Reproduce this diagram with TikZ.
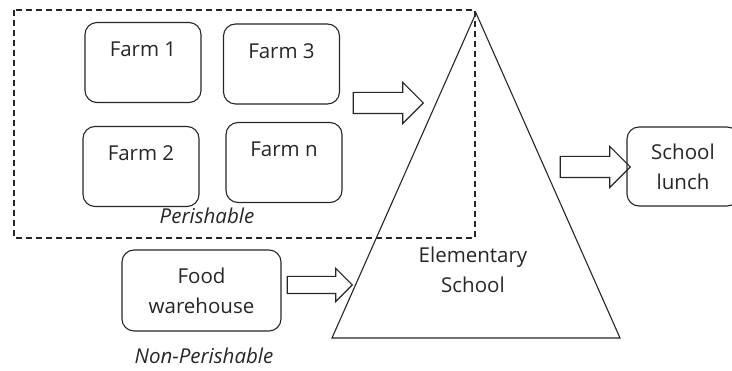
\documentclass[tikz,border=0pt]{standalone}
\usepackage{fontspec}
\setmainfont{Open Sans}
\usetikzlibrary{shapes.arrows}

\begin{document}
\begin{tikzpicture}[x=1pt,y=-1pt,line width=1.1pt,
    every node/.style={font=\fontsize{20.5}{30}\selectfont,text=black!85},
    farm/.style={draw=black!85,rounded corners=12pt,minimum width=116pt,minimum height=80pt,text height=14pt,text depth=25pt},
    roundbox/.style={draw=black!85,rounded corners=12pt,align=center},
    tag/.style={font=\fontsize{20.5}{30}\itshape,inner sep=1pt},
    bigarrow/.style={draw=black!85,single arrow,inner xsep=0pt,inner ysep=10pt,single arrow head extend=10pt,minimum width=40pt,minimum height=70pt}]
    \clip (0,0) rectangle (732,371);

    % Perishable: the farms
    \draw[black!85,dash pattern=on 6pt off 4pt] (14,10) rectangle (475,238);
    \node[farm] (farm1) at (143,62.5) {Farm 1};
    \node[farm] (farm3) at (281.5,64) {Farm 3};
    \node[farm] (farm2) at (141,166.5) {Farm 2};
    \node[farm] (farmn) at (284,162.5) {Farm n};
    \node[tag] (perish) at (207,216) {Perishable};

    % Elementary school
    \coordinate (apex) at (476,13);
    \coordinate (baseL) at (332,338);
    \coordinate (baseR) at (620,338);
    \draw[black!85] (apex) -- (baseR) -- (baseL) -- cycle;
    \node[align=center] (school) at (473,270) {Elementary\\School};

    % Non-perishable: the warehouse
    \node[roundbox,minimum width=159pt,minimum height=81pt] (warehouse) at (201.5,290.5) {Food\\warehouse};
    \node[tag] (nonperish) at (204,356) {Non-Perishable};

    % School lunch
    \node[roundbox,minimum width=112pt,minimum height=79pt] (lunch) at (683,166.5) {School\\lunch};

    % Block arrows
    \node[bigarrow] (arrfarm) at (383,103) {};
    \node[bigarrow,inner ysep=8pt,minimum width=32pt,minimum height=65pt,single arrow head extend=8pt] (arrware) at (315.5,285) {};
    \node[bigarrow] (arrlunch) at (590,167) {};
\end{tikzpicture}
\end{document}
